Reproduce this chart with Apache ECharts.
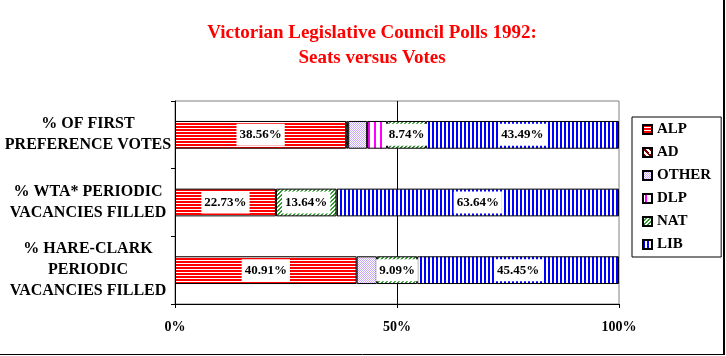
<!DOCTYPE html>
<html><head><meta charset="utf-8">
<script src="https://cdn.jsdelivr.net/npm/echarts@6/dist/echarts.min.js"></script>
<style>html,body{margin:0;padding:0;background:#fff}#c{width:726px;height:356px}</style>
</head><body><div id="c"></div>
<script>
const categories = ['% OF FIRST\nPREFERENCE VOTES', '% WTA* PERIODIC\nVACANCIES FILLED', '% HARE-CLARK\nPERIODIC\nVACANCIES FILLED'];
const seriesNames = ['ALP', 'AD', 'OTHER', 'DLP', 'NAT', 'LIB'];
const ALP = [38.56, 22.73, 40.91];
const AD = [0.45, null, null];
const OTHER = [4.26, null, 4.55];
const DLP = [4.50, null, null];
const NAT = [8.74, 13.64, 9.09];
const LIB = [43.49, 63.64, 45.45];
const xTicks = [0, 50, 100];
const labelled = {ALP: true, NAT: true, LIB: true};

function pat(w, h, draw) {
  const c = document.createElement('canvas');
  c.width = w; c.height = h;
  const g = c.getContext('2d');
  g.fillStyle = '#fff'; g.fillRect(0, 0, w, h);
  draw(g);
  return {image: c, repeat: 'repeat'};
}
const patterns = {
  ALP: pat(4, 3, g => { g.fillStyle = '#ff0000'; g.fillRect(0, 0, 4, 2); }),
  AD: pat(6, 6, g => { g.fillStyle = '#800000'; for (let i = 0; i < 6; i++) { g.fillRect(i, i, 2, 1); g.fillRect((i + 5) % 6, i, 1, 1); } }),
  OTHER: pat(2, 2, g => { g.fillStyle = '#c8a8f8'; g.fillRect(0, 0, 1, 1); g.fillRect(1, 1, 1, 1); }),
  DLP: pat(6, 4, g => { g.fillStyle = '#ff00ff'; g.fillRect(2, 0, 1, 4); g.fillRect(3, 0, 1, 4); }),
  NAT: pat(4, 4, g => { g.fillStyle = '#339933'; for (let i = 0; i < 4; i++) { g.fillRect((3 - i), i, 1, 1); g.fillRect((4 - i) % 4, i, 1, 1); } }),
  LIB: pat(4, 2, g => { g.fillStyle = '#0000ff'; g.fillRect(0, 0, 2, 2); })
};
const dataMap = {ALP, AD, OTHER, DLP, NAT, LIB};
const serif = 'Liberation Serif';

const series = seriesNames.map(n => ({
  name: n,
  type: 'bar',
  stack: 'all',
  barCategoryGap: '59%',
  data: dataMap[n],
  itemStyle: {color: patterns[n], borderColor: '#000', borderWidth: 1},
  label: {
    show: !!labelled[n],
    position: 'inside',
    formatter: p => p.value.toFixed(2) + '%',
    backgroundColor: '#fff',
    padding: [5, 3, 4, 3],
    fontFamily: serif, fontWeight: 'bold', fontSize: 13, color: '#000'
  },
  emphasis: {disabled: true}
}));

const chart = echarts.init(document.getElementById('c'), null, {renderer: 'canvas'});
chart.setOption({
  animation: false,
  backgroundColor: '#fff',
  title: {
    text: 'Victorian Legislative Council Polls 1992:\nSeats versus Votes',
    left: 367, top: 16, textAlign: 'center',
    textStyle: {color: '#ff0000', fontFamily: serif, fontWeight: 'bold', fontSize: 19, lineHeight: 25}
  },
  legend: {
    orient: 'vertical', left: 632, top: 117,
    data: seriesNames,
    itemWidth: 9, itemHeight: 9, itemGap: 8,
    padding: [5, 10, 5, 10],
    borderColor: '#000', borderWidth: 1,
    icon: 'rect',
    textStyle: {fontFamily: serif, fontWeight: 'bold', fontSize: 15, color: '#000', lineHeight: 15},
    selectedMode: false
  },
  grid: {left: 175, right: 107, top: 101, bottom: 52, show: true, borderColor: '#808080', borderWidth: 1, backgroundColor: 'transparent'},
  xAxis: {
    type: 'value', min: xTicks[0], max: xTicks[xTicks.length - 1], interval: 50,
    axisLine: {show: true, lineStyle: {color: '#000'}},
    axisTick: {show: true, length: 4, lineStyle: {color: '#000'}},
    splitLine: {show: true, showMinLine: false, showMaxLine: false, lineStyle: {color: '#000'}},
    axisLabel: {formatter: '{value}%', margin: 16, fontFamily: serif, fontWeight: 'bold', fontSize: 14, color: '#000'}
  },
  yAxis: {
    type: 'category', inverse: true, data: categories,
    axisLine: {show: true, lineStyle: {color: '#000'}},
    axisTick: {show: true, length: 4, lineStyle: {color: '#000'}},
    axisLabel: {align: 'center', margin: 87, padding: [7, 0, 0, 0], fontFamily: serif, fontWeight: 'bold', fontSize: 16, lineHeight: 21, color: '#000'}
  },
  graphic: [
    {type: 'line', shape: {x1: 724, y1: 0, x2: 724, y2: 355}, style: {stroke: '#000', lineWidth: 2}},
    {type: 'line', shape: {x1: 0, y1: 354.5, x2: 725, y2: 354.5}, style: {stroke: '#000', lineWidth: 1}}
  ],
  series
});
</script></body></html>
